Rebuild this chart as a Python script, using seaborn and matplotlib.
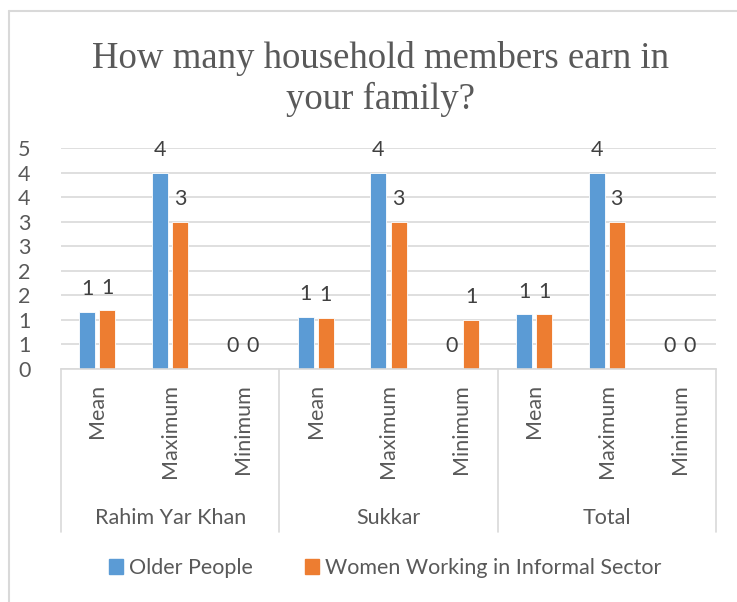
import math
import matplotlib
matplotlib.use("Agg")
import matplotlib.pyplot as plt
from matplotlib.lines import Line2D
from matplotlib.ticker import FuncFormatter, MultipleLocator
import pandas as pd
import seaborn as sns

# Data
regions = ["Rahim Yar Khan", "Sukkar", "Total"]
stats = ["Mean", "Maximum", "Minimum"]
older_people = [1.17, 4, 0, 1.07, 4, 0, 1.12, 4, 0]
women_informal = [1.20, 3, 0, 1.05, 3, 1, 1.12, 3, 0]
series_names = ["Older People", "Women Working in Informal Sector"]
colors = ["#5B9BD5", "#ED7D31"]

keys = [f"{r}|{s}" for r in regions for s in stats]
df = pd.DataFrame({
    "key": keys * 2,
    "value": older_people + women_informal,
    "series": [series_names[0]] * len(keys) + [series_names[1]] * len(keys),
})

sns.set_theme(style="white")
plt.rcParams["font.family"] = ["Lato", "DejaVu Sans"]
text_col = "#595959"
grid_col = "#D9D9D9"
fs = 15.5

fig = plt.figure(figsize=(7.37, 6.02), dpi=100)
ax = fig.add_axes([61 / 737, 1 - 369 / 602, (716 - 61) / 737, (369 - 148.3) / 602])

sns.barplot(data=df, x="key", y="value", hue="series", order=keys,
            hue_order=series_names, palette=colors, width=0.55, gap=0.2,
            saturation=1, legend=False, ax=ax, edgecolor="white", linewidth=0.6)


def round_half_up(v):
    return str(int(math.floor(v + 0.5)))


for cont in ax.containers:
    vals = [b.get_height() for b in cont]
    ax.bar_label(cont, labels=[round_half_up(v) for v in vals], padding=9,
                 fontsize=fs, color="#404040")

ax.set_ylim(0, 4.5)
ax.set_xlim(-0.5, len(keys) - 0.5)
ax.yaxis.set_major_locator(MultipleLocator(0.5))
ax.yaxis.set_major_formatter(FuncFormatter(lambda v, p: round_half_up(v)))
ax.yaxis.grid(True, color=grid_col, linewidth=1.2)
ax.set_axisbelow(True)
for side in ["left", "right", "top"]:
    ax.spines[side].set_visible(False)
ax.spines["bottom"].set_color(grid_col)
ax.spines["bottom"].set_linewidth(1.2)

ax.set_xticks(range(len(keys)))
ax.set_xticklabels([k.split("|")[1] for k in keys], rotation=90)
ax.tick_params(axis="x", length=0, pad=11, labelsize=fs, labelcolor=text_col)
ax.tick_params(axis="y", length=0, pad=22, labelsize=fs, labelcolor=text_col)
ax.set_xlabel("")
ax.set_ylabel("")

# Region group labels and separators below the axis
trans = ax.get_xaxis_transform()
for i in range(len(regions) + 1):
    ax.plot([i * 3 - 0.5, i * 3 - 0.5], [0, -0.739], transform=trans,
            color=grid_col, linewidth=1.2, clip_on=False)
for i, r in enumerate(regions):
    ax.text(i * 3 + 1, -0.675, r, transform=trans, ha="center", va="center",
            fontsize=fs, color=text_col)

fig.text(380 / 737, 1 - 79 / 602, "How many household members earn in\nyour family?",
         ha="center", va="center", fontsize=26.5, color=text_col,
         family=["Liberation Serif", "DejaVu Serif"], linespacing=1.2)

handles = [plt.Rectangle((0, 0), 1, 1, color=c) for c in colors]
fig.legend(handles, series_names, loc="center", bbox_to_anchor=(385 / 737, 1 - 568 / 602),
           ncol=2, frameon=False, fontsize=fs, labelcolor=text_col,
           handlelength=0.65, handleheight=0.75, handletextpad=0.3, columnspacing=2.4)

# Chart area border
fig.add_artist(Line2D([9 / 737, 9 / 737], [0, 1 - 11 / 602], transform=fig.transFigure,
                      color=grid_col, linewidth=1.5))
fig.add_artist(Line2D([9 / 737, 1], [1 - 11 / 602, 1 - 11 / 602], transform=fig.transFigure,
                      color=grid_col, linewidth=1.5))

fig.savefig("out.png", dpi=100)
